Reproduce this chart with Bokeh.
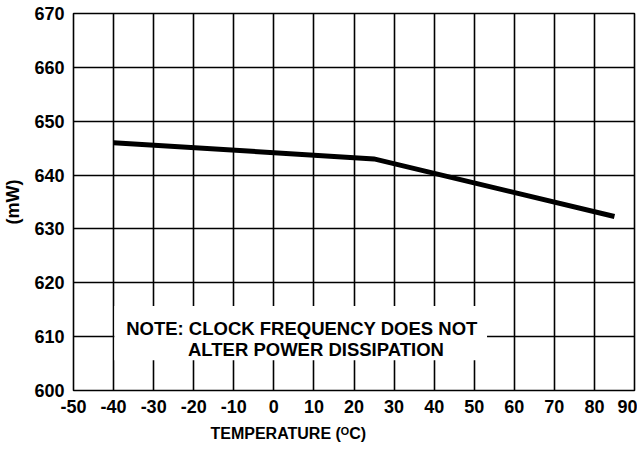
from bokeh.plotting import figure
from bokeh.models import Range1d, FixedTicker, Title, Label
from bokeh.embed import file_html
from bokeh.resources import INLINE

# ---- data ----
temperature_c = [-40, 25, 85]
power_mw = [646, 643, 632.3]
x_ticks = list(range(-50, 91, 10))
y_ticks = list(range(600, 671, 10))
x_tick_labels = [str(t) for t in x_ticks]
y_tick_labels = [str(t) for t in y_ticks]
x_title = "TEMPERATURE (ᴼC)"
y_title = "(mW)"
note_lines = ["NOTE: CLOCK FREQUENCY DOES NOT", "ALTER POWER DISSIPATION"]

FONT = "Liberation Sans"

p = figure(
    frame_width=561, frame_height=377,
    x_range=Range1d(-50, 90), y_range=Range1d(600, 670),
    output_backend="svg", toolbar_location=None,
    min_border_left=71, min_border_top=13, min_border_right=3, min_border_bottom=4,
    background_fill_color="white", border_fill_color="white",
)

p.outline_line_color = "black"
p.outline_line_width = 1.6
p.outline_line_alpha = 1

for ax in (p.xaxis[0], p.yaxis[0]):
    ax.axis_line_color = None
    ax.major_tick_in = 0
    ax.major_tick_out = 0
    ax.minor_tick_in = 0
    ax.minor_tick_out = 0
    ax.major_label_text_font = FONT
    ax.major_label_text_font_style = "bold"
    ax.major_label_text_font_size = "18px"
    ax.major_label_text_color = "black"

p.xaxis.ticker = FixedTicker(ticks=x_ticks)
p.yaxis.ticker = FixedTicker(ticks=y_ticks)
p.xaxis.major_label_overrides = dict(zip(x_ticks, x_tick_labels))
p.yaxis.major_label_overrides = dict(zip(y_ticks, y_tick_labels))
p.xaxis.major_label_standoff = 9
p.yaxis.major_label_standoff = 9

p.yaxis.axis_label = y_title
p.yaxis.axis_label_text_font = FONT
p.yaxis.axis_label_text_font_style = "bold"
p.yaxis.axis_label_text_font_size = "18px"
p.yaxis.axis_label_text_color = "black"
p.yaxis.axis_label_standoff = 8

for g in (p.xgrid[0], p.ygrid[0]):
    g.grid_line_color = "black"
    g.grid_line_width = 1.6
    g.grid_line_alpha = 1
p.xgrid.ticker = FixedTicker(ticks=x_ticks)
p.ygrid.ticker = FixedTicker(ticks=y_ticks)

# curve
p.line(temperature_c, power_mw, line_color="black", line_width=5, line_join="miter")

# note box (white background masking grid)
p.quad(left=[-39.8], right=[53.2], bottom=[605.6], top=[615.7],
       fill_color="white", line_color=None)

p.add_layout(Label(x=7.0, y=611.5, text=note_lines[0], text_align="center",
                   text_baseline="alphabetic", text_font=FONT, text_font_style="bold",
                   text_font_size="18.5px", text_color="black"))
p.add_layout(Label(x=10.5, y=607.6, text=note_lines[1], text_align="center",
                   text_baseline="alphabetic", text_font=FONT, text_font_style="bold",
                   text_font_size="18.5px", text_color="black"))

p.add_layout(Title(text=x_title, align="left", offset=137, standoff=14,
                   text_font=FONT, text_font_style="bold", text_font_size="16px",
                   text_color="black"), "below")

open("out.html", "w").write(file_html(p, INLINE))
